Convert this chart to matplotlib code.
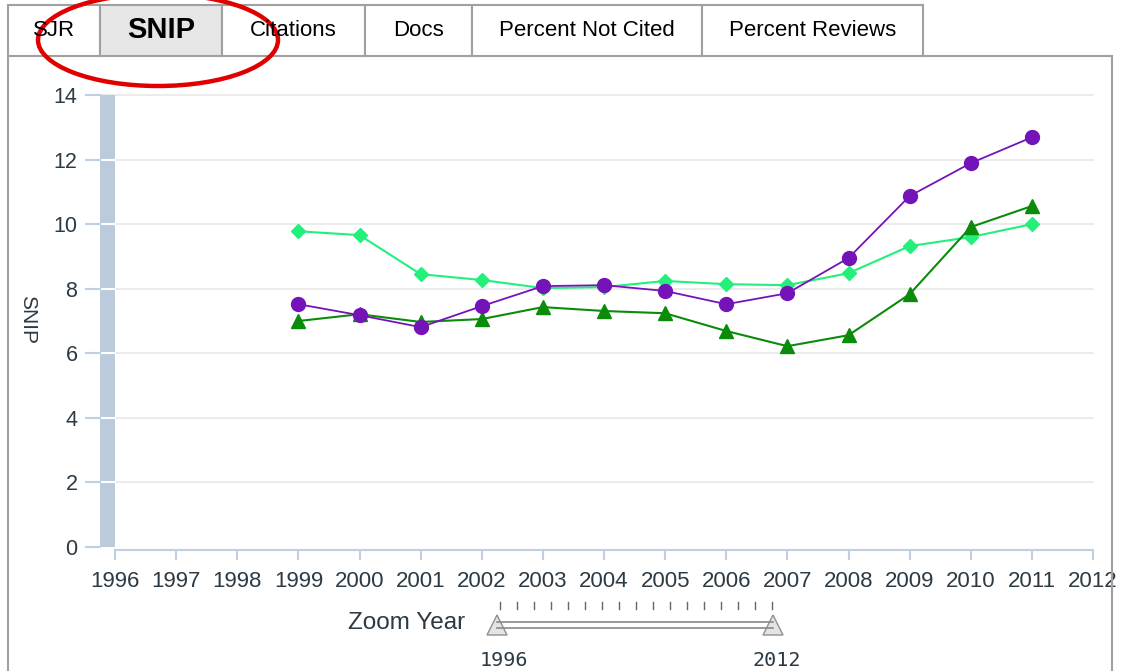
import matplotlib.pyplot as plt
from matplotlib.patches import Rectangle, Ellipse, Polygon
from matplotlib.lines import Line2D

plt.rcParams['font.family'] = ['Liberation Sans', 'DejaVu Sans']

# Data
years = [1999, 2000, 2001, 2002, 2003, 2004, 2005, 2006, 2007, 2008, 2009, 2010, 2011]
purple_vals = [7.52, 7.18, 6.81, 7.46, 8.08, 8.11, 7.93, 7.52, 7.86, 8.95, 10.87, 11.89, 12.69]
light_vals = [9.78, 9.66, 8.45, 8.27, 8.02, 8.05, 8.24, 8.14, 8.11, 8.48, 9.32, 9.60, 10.00]
dark_vals = [7.00, 7.21, 6.97, 7.06, 7.43, 7.31, 7.24, 6.69, 6.22, 6.56, 7.83, 9.91, 10.56]

x_ticks = list(range(1996, 2013))
y_ticks = [0, 2, 4, 6, 8, 10, 12, 14]
tab_names = ["SJR", "SNIP", "Citations", "Docs", "Percent Not Cited", "Percent Reviews"]
tab_edges = [8, 100, 222, 365, 472, 702, 923]
zoom_range = ["1996", "2012"]

W, H = 1135, 671
fig = plt.figure(figsize=(W / 100, H / 100), dpi=100)
fig.patch.set_facecolor("white")

def fx(px):
    return px / W

def fy(py):
    return 1 - py / H

text_col = "#2b3a44"
axis_col = "#c0d0e0"

# Panel border
fig.add_artist(Line2D([fx(8), fx(8)], [fy(56), 0], color="#a0a0a0", lw=1.5, transform=fig.transFigure))
fig.add_artist(Line2D([fx(1112), fx(1112)], [fy(56), 0], color="#a0a0a0", lw=1.5, transform=fig.transFigure))
fig.add_artist(Line2D([fx(923), fx(1112)], [fy(56), fy(56)], color="#a0a0a0", lw=1.5, transform=fig.transFigure))

# Tabs
for i, name in enumerate(tab_names):
    x0, x1 = tab_edges[i], tab_edges[i + 1]
    selected = name == "SNIP"
    fig.add_artist(Rectangle((fx(x0), fy(56)), fx(x1 - x0), fy(5) - fy(56),
                             transform=fig.transFigure,
                             facecolor="#e6e6e6" if selected else "white",
                             edgecolor="#a0a0a0", lw=1.5))
    fig.text(fx((x0 + x1) / 2), fy(30), name, ha="center", va="center",
             fontsize=21 if selected else 16,
             fontweight="bold" if selected else "normal", color="black")

# Main axes
ax = fig.add_axes([fx(115), fy(547), fx(1093 - 115), fy(95) - fy(547)])
ax.set_xlim(1996, 2012)
ax.set_ylim(0, 14)

for y in y_ticks[1:]:
    ax.plot([-0.02, 1], [y, y], color="#e8e8e8", lw=1.2,
            transform=ax.get_yaxis_transform(), clip_on=False, zorder=0)

# Gray band on the left
ax.add_patch(Rectangle((-15 / 978, 0), 15 / 978, 14, transform=ax.get_yaxis_transform(),
                       facecolor="#bccbdb", edgecolor="none", clip_on=False, zorder=1))
for y in y_ticks[1:-1]:
    ax.plot([-15 / 978, 0], [y, y], color="white", lw=1.5,
            transform=ax.get_yaxis_transform(), clip_on=False, zorder=2)

ax.plot(years, light_vals, color="#22f07a", lw=1.5, marker="D", markersize=7, zorder=3)
ax.plot(years, dark_vals, color="#0a8c0a", lw=1.5, marker="^", markersize=10, zorder=4)
ax.plot(years, purple_vals, color="#7414b8", lw=1.3, marker="o", markersize=10, zorder=5)

for s in ["top", "right", "left"]:
    ax.spines[s].set_visible(False)
ax.spines["bottom"].set_color(axis_col)
ax.spines["bottom"].set_linewidth(1.5)
ax.spines["bottom"].set_position(("outward", 2))

ax.set_xticks(x_ticks)
ax.set_xticklabels([str(x) for x in x_ticks])
ax.set_yticks(y_ticks)
ax.tick_params(axis="x", length=7, width=1.5, color=axis_col, labelsize=16,
               labelcolor=text_col, pad=8)
ax.tick_params(axis="y", length=0, labelsize=15.5, labelcolor=text_col, pad=27)
for y in y_ticks:
    ax.plot([-29 / 978, -15 / 978], [y, y], color=axis_col, lw=1.5,
            transform=ax.get_yaxis_transform(), clip_on=False)

fig.text(fx(28), fy(320), "SNIP", rotation=270, ha="center", va="center",
         fontsize=15, color=text_col)

# Zoom slider
fig.text(fx(407), fy(623), "Zoom Year", ha="center", va="center", fontsize=17.5, color=text_col)
fig.add_artist(Line2D([fx(497), fx(773)], [fy(622), fy(622)], color="#888888", lw=1.2,
                      transform=fig.transFigure))
fig.add_artist(Line2D([fx(497), fx(773)], [fy(628), fy(628)], color="#888888", lw=1.2,
                      transform=fig.transFigure))
for i in range(17):
    xp = 500 + i * (772 - 500) / 16
    fig.add_artist(Line2D([fx(xp), fx(xp)], [fy(602), fy(609)], color="#666666", lw=1,
                          transform=fig.transFigure))
for xp in [497, 773]:
    fig.add_artist(Polygon([(fx(xp - 10), fy(635)), (fx(xp + 10), fy(635)), (fx(xp), fy(615))],
                           closed=True, transform=fig.transFigure,
                           facecolor="#e4e4e4", edgecolor="#909090", lw=1))
fig.text(fx(504), fy(660), zoom_range[0], ha="center", va="center", fontsize=14.5,
         family="DejaVu Sans Mono", color=text_col)
fig.text(fx(777), fy(660), zoom_range[1], ha="center", va="center", fontsize=14.5,
         family="DejaVu Sans Mono", color=text_col)

# Red highlight ellipse around the SNIP tab
fig.add_artist(Ellipse((fx(158), fy(40)), fx(240), fy(0) - fy(92), transform=fig.transFigure,
                       facecolor="none", edgecolor="#e00000", lw=3.2))

fig.savefig("out.png", dpi=100)
